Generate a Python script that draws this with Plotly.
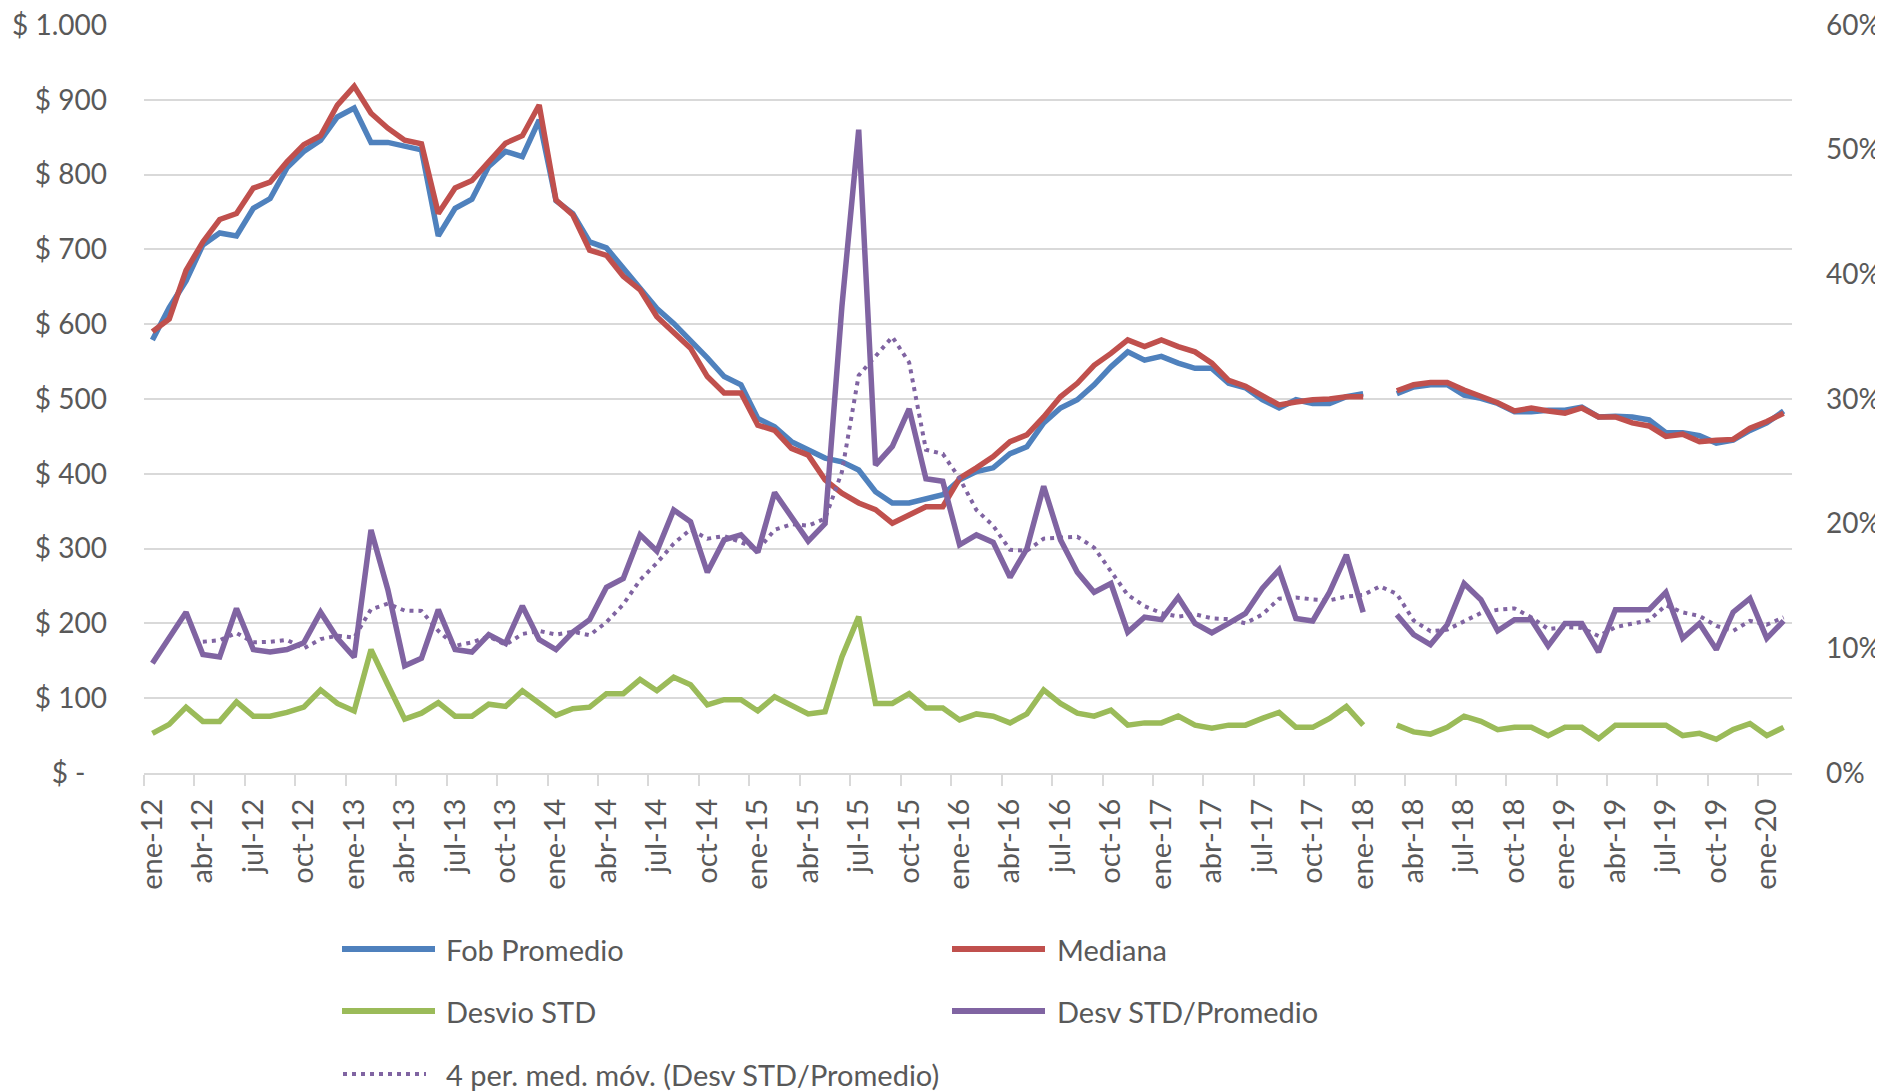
import plotly.graph_objects as go

MESES = ["ene", "feb", "mar", "abr", "may", "jun", "jul", "ago", "sep", "oct", "nov", "dic"]
meses = [f"{m}-{a}" for a in range(12, 21) for m in MESES][:98]
x = list(range(len(meses)))
tick_pos = x[::3]
tick_labels = meses[::3]

fob_promedio = [
    579, 622, 658, 706, 722, 718, 755, 768, 809, 831, 846, 877,
    889, 843, 843, 838, 833, 718, 755, 767, 811, 831, 824, 873,
    765, 748, 710, 702, 675, 650, 621, 601, 579, 555, 530, 519,
    474, 463, 443, 432, 421, 416, 405, 376, 361, 361, 367, 372,
    392, 403, 408, 427, 436, 468, 488, 499, 519, 543, 563, 552,
    557, 548, 541, 541, 521, 515, 499, 488, 499, 494, 494, 503,
    507, None, 507, 516, 519, 519, 505, 501, 494, 483, 483, 485,
    485, 489, 476, 477, 476, 472, 455, 455, 451, 441, 445, 458,
    468, 484,
]
mediana = [
    590, 607, 672, 710, 740, 748, 782, 790, 817, 840, 852, 893,
    918, 882, 862, 846, 841, 748, 782, 792, 817, 842, 852, 893,
    766, 746, 699, 692, 664, 646, 610, 590, 568, 530, 508, 508,
    465, 458, 434, 425, 392, 374, 361, 352, 334, 345, 356, 356,
    394, 408, 423, 443, 452, 476, 503, 521, 545, 561, 579, 570,
    579, 570, 563, 548, 525, 517, 505, 492, 496, 499, 500, 503,
    503, None, 511, 519, 522, 522, 512, 503, 495, 484, 488, 484,
    481, 488, 476, 476, 468, 464, 450, 453, 443, 445, 446, 461,
    470, 481,
]
desvio_std = [
    53, 65, 88, 69, 69, 95, 76, 76, 81, 88, 111, 93,
    83, 165, 118, 72, 80, 94, 76, 76, 92, 89, 110, 93,
    77, 86, 88, 106, 106, 125, 110, 128, 118, 91, 98, 98,
    83, 102, 91, 79, 82, 155, 209, 93, 93, 106, 87, 87,
    71, 79, 76, 67, 79, 111, 93, 80, 76, 84, 64, 67,
    67, 76, 64, 60, 64, 64, 73, 81, 61, 61, 73, 89,
    64, None, 64, 55, 52, 61, 76, 69, 58, 61, 61, 50,
    61, 61, 46, 64, 64, 64, 64, 50, 53, 45, 58, 66,
    50, 61,
]
# %
desv_sobre_prom = [
    8.8, 10.9, 12.9, 9.5, 9.3, 13.2, 9.9, 9.7, 9.9, 10.45, 12.9, 10.8,
    9.3, 19.5, 14.7, 8.6, 9.2, 13.1, 9.9, 9.7, 11.1, 10.4, 13.4, 10.7,
    9.9, 11.3, 12.3, 14.9, 15.6, 19.1, 17.8, 21.1, 20.15, 16.1, 18.7, 19.1,
    17.7, 22.5, 20.55, 18.6, 20.0, 37.4, 51.6, 24.7, 26.2, 29.2, 23.6, 23.4,
    18.3, 19.1, 18.5, 15.7, 18.0, 23.0, 18.7, 16.1, 14.5, 15.2, 11.3, 12.5,
    12.3, 14.1, 12.0, 11.25, 12.0, 12.8, 14.8, 16.3, 12.4, 12.2, 14.5, 17.5,
    12.9, None, 12.7, 11.1, 10.3, 11.9, 15.2, 13.9, 11.4, 12.3, 12.3, 10.2,
    12.0, 12.0, 9.7, 13.1, 13.1, 13.1, 14.5, 10.8, 12.0, 9.9, 12.9, 14.0,
    10.8, 12.2,
]
media_movil = [
    None, None, None, 10.53, 10.65, 11.23, 10.48, 10.53, 10.68, 9.99, 10.74, 11.01,
    10.86, 13.13, 13.58, 13.03, 13.0, 11.4, 10.2, 10.48, 10.95, 10.28, 11.15, 11.4,
    11.1, 11.33, 11.05, 12.1, 13.53, 15.48, 16.85, 18.4, 19.54, 18.79, 19.01, 18.51,
    17.9, 19.5, 19.96, 19.84, 20.41, 24.14, 31.9, 33.43, 34.98, 32.93, 25.93, 25.6,
    23.63, 21.1, 19.83, 17.9, 17.83, 18.8, 18.85, 18.95, 18.08, 16.13, 14.28, 13.38,
    12.83, 12.55, 12.73, 12.41, 12.34, 12.01, 12.71, 13.98, 14.08, 13.93, 13.85, 14.15,
    14.28, 14.97, 14.37, 12.23, 11.37, 11.5, 12.13, 12.83, 13.1, 13.2, 12.48, 11.55,
    11.7, 11.63, 10.98, 11.7, 11.98, 12.25, 13.45, 12.88, 12.6, 11.8, 11.4, 12.2,
    11.9, 12.48,
]

y_ticks = list(range(0, 1001, 100))
y_labels = ["$ -\u00a0\u00a0\u00a0"] + ["$ " + f"{v:,}".replace(",", ".") for v in y_ticks[1:]]
y2_ticks = [0, 10, 20, 30, 40, 50, 60]
y2_labels = [f"{v}%" for v in y2_ticks]

BLUE = "#4F81BD"
RED = "#C0504D"
GREEN = "#9BBB59"
PURPLE = "#8064A2"
GRID = "#D9D9D9"
TEXT = "#595959"
LW = 5.5
DOT = "4px,5px"
FS = 29

fig = go.Figure()
fig.add_trace(go.Scatter(x=x, y=fob_promedio, mode="lines", name="Fob Promedio", line=dict(color=BLUE, width=LW)))
fig.add_trace(go.Scatter(x=x, y=mediana, mode="lines", name="Mediana", line=dict(color=RED, width=LW)))
fig.add_trace(go.Scatter(x=x, y=desvio_std, mode="lines", name="Desvio STD", line=dict(color=GREEN, width=LW)))
fig.add_trace(go.Scatter(x=x, y=desv_sobre_prom, mode="lines", name="Desv STD/Promedio", yaxis="y2", line=dict(color=PURPLE, width=LW)))
fig.add_trace(go.Scatter(x=x, y=media_movil, mode="lines", name="4 per. med. móv. (Desv STD/Promedio)", yaxis="y2", line=dict(color=PURPLE, width=4, dash=DOT)))

# plot area as seen on the page (pixels); the page body adds an 8px offset
OFF = 8
L, R, T, B = 144, 1792, 25, 773
W, H = 1883 - OFF, 1092 - OFF
def px(xp):
    return (xp - L) / (R - L)
def py(yp):
    return (B - yp) / (B - T)

legend = [
    ("Fob Promedio", BLUE, None, 342, 435, 444, 949),
    ("Mediana", RED, None, 952, 1045, 1055, 949),
    ("Desvio STD", GREEN, None, 342, 435, 444, 1011),
    ("Desv STD/Promedio", PURPLE, None, 952, 1045, 1055, 1011),
    ("4 per. med. móv. (Desv STD/Promedio)", PURPLE, DOT, 343, 426, 444, 1074),
]
for name, col, dash, x0, x1, xt, yl in legend:
    fig.add_shape(type="line", xref="paper", yref="paper", x0=px(x0), x1=px(x1), y0=py(yl), y1=py(yl),
                  line=dict(color=col, width=4 if dash else 6, dash=dash or "solid"))
    fig.add_annotation(xref="paper", yref="paper", x=px(xt), y=py(yl), text=name, showarrow=False,
                       xanchor="left", yanchor="middle", font=dict(size=FS, color=TEXT))

fig.update_layout(
    width=W, height=H,
    margin=dict(l=L - OFF, r=W - (R - OFF), t=T - OFF, b=H - (B - OFF), autoexpand=False),
    paper_bgcolor="white", plot_bgcolor="white",
    showlegend=False,
    font=dict(family="Lato", size=FS, color=TEXT),
    xaxis=dict(
        range=[-0.5, 97.5], tickmode="array", tickvals=tick_pos, ticktext=tick_labels,
        tickangle=-90, ticks="", showgrid=False, zeroline=False, automargin=False,
        showline=True, linecolor=GRID, linewidth=2, ticklabelstandoff=12,
        minor=dict(tickmode="array", tickvals=[p - 0.5 for p in tick_pos], ticks="outside",
                   ticklen=11, tickcolor=GRID, tickwidth=2, showgrid=False),
    ),
    yaxis=dict(
        range=[0, 1000], tickmode="array", tickvals=y_ticks, ticktext=y_labels,
        tickfont=dict(size=28), ticks="", showgrid=True, gridcolor=GRID, gridwidth=2,
        zeroline=False, automargin=False, showline=False, ticklabelstandoff=36,
        ticklabeloverflow="allow",
    ),
    yaxis2=dict(
        range=[0, 60], overlaying="y", side="right", tickmode="array", tickvals=y2_ticks,
        ticktext=y2_labels, tickfont=dict(size=28), ticks="", showgrid=False, zeroline=False,
        showline=False, automargin=False, ticklabelstandoff=33, ticklabeloverflow="allow",
    ),
)

fig.write_html("out.html")
